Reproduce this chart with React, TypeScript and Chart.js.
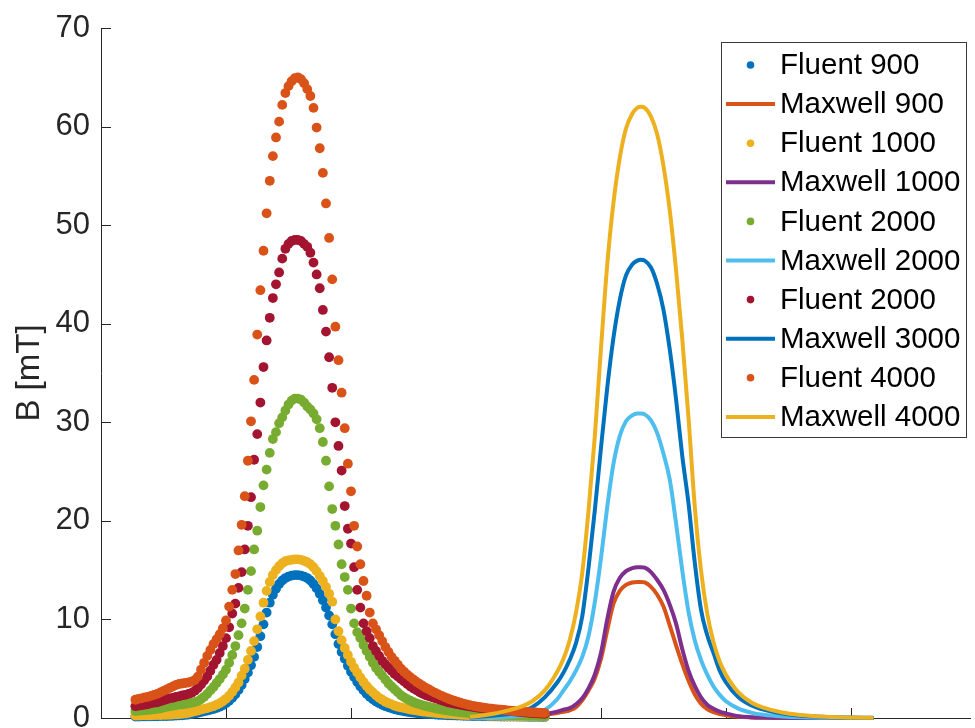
import React, { useEffect, useRef } from "react";
import { Chart, registerables } from "chart.js";

Chart.register(...registerables);

// ---- Fluent (sampled points) ----
const fluentX = [
  0.275, 0.3, 0.325, 0.35, 0.375, 0.4, 0.425, 0.45, 0.475, 0.5,
  0.525, 0.55, 0.575, 0.6, 0.625, 0.65, 0.675, 0.7, 0.725, 0.75,
  0.775, 0.8, 0.825, 0.85, 0.875, 0.9, 0.925, 0.95, 0.975, 1.0,
  1.025, 1.05, 1.075, 1.1, 1.125, 1.15, 1.175, 1.2, 1.225, 1.25,
  1.275, 1.3, 1.325, 1.35, 1.375, 1.4, 1.425, 1.45, 1.475, 1.5,
  1.525, 1.55, 1.575, 1.6, 1.625, 1.65, 1.675, 1.7, 1.725, 1.75,
  1.775, 1.8, 1.825, 1.85, 1.875, 1.9, 1.925, 1.95, 1.975, 2.0,
  2.025, 2.05, 2.075, 2.1, 2.125, 2.15, 2.175, 2.2, 2.225, 2.25,
  2.275, 2.3, 2.325, 2.35, 2.375, 2.4, 2.425, 2.45, 2.475, 2.5,
  2.525, 2.55, 2.575, 2.6, 2.625, 2.65, 2.675, 2.7, 2.725, 2.75,
  2.775, 2.8, 2.825, 2.85, 2.875, 2.9, 2.925, 2.95, 2.975, 3.0,
  3.025, 3.05, 3.075, 3.1, 3.125, 3.15, 3.175, 3.2, 3.225, 3.25,
  3.275, 3.3, 3.325, 3.35, 3.375, 3.4, 3.425, 3.45, 3.475, 3.5,
  3.525, 3.55,
];

const fluent900 = [
  0.15, 0.15, 0.16, 0.16, 0.17, 0.17, 0.18, 0.18, 0.19, 0.2,
  0.2, 0.21, 0.22, 0.24, 0.26, 0.28, 0.31, 0.35, 0.4, 0.46,
  0.52, 0.6, 0.68, 0.75, 0.83, 0.92, 1.02, 1.15, 1.3, 1.5,
  1.75, 2.05, 2.4, 2.85, 3.35, 3.95, 4.6, 5.35, 6.2, 7.2,
  8.3, 9.5, 10.7, 11.7, 12.5, 13.1, 13.6, 13.95, 14.2, 14.35,
  14.45, 14.5, 14.5, 14.45, 14.35, 14.2, 13.95, 13.6, 13.15, 12.6,
  11.95, 11.2, 10.4, 9.5, 8.5, 7.5, 6.7, 6.0, 5.3, 4.7,
  4.15, 3.65, 3.2, 2.8, 2.45, 2.15, 1.9, 1.68, 1.5, 1.33,
  1.2, 1.08, 0.98, 0.89, 0.81, 0.74, 0.68, 0.63, 0.58, 0.54,
  0.5, 0.47, 0.44, 0.41, 0.39, 0.37, 0.35, 0.33, 0.31, 0.3,
  0.28, 0.27, 0.26, 0.25, 0.24, 0.23, 0.22, 0.21, 0.2, 0.2,
  0.19, 0.18, 0.18, 0.17, 0.17, 0.16, 0.16, 0.15, 0.15, 0.15,
  0.14, 0.14, 0.14, 0.13, 0.13, 0.13, 0.12, 0.12, 0.12, 0.12,
  0.11, 0.11,
];

const fluent1000 = [
  0.25, 0.25, 0.26, 0.27, 0.28, 0.28, 0.29, 0.3, 0.3, 0.31,
  0.32, 0.33, 0.35, 0.37, 0.4, 0.43, 0.46, 0.52, 0.6, 0.68,
  0.76, 0.85, 0.93, 1.0, 1.1, 1.2, 1.35, 1.5, 1.7, 1.95,
  2.25, 2.65, 3.1, 3.6, 4.3, 5.0, 5.9, 6.8, 7.8, 9.0,
  10.3, 11.7, 12.9, 13.8, 14.5, 15.0, 15.4, 15.7, 15.9, 16.0,
  16.05, 16.1, 16.1, 16.05, 15.95, 15.8, 15.6, 15.3, 14.9, 14.4,
  13.9, 13.3, 12.6, 11.8, 10.0, 8.8, 7.9, 7.1, 6.4, 5.7,
  5.1, 4.6, 4.1, 3.65, 3.25, 2.9, 2.6, 2.3, 2.05, 1.85,
  1.65, 1.5, 1.38, 1.25, 1.15, 1.07, 1.0, 0.93, 0.86, 0.8,
  0.75, 0.7, 0.66, 0.62, 0.58, 0.55, 0.52, 0.49, 0.46, 0.43,
  0.41, 0.39, 0.37, 0.35, 0.33, 0.31, 0.3, 0.28, 0.27, 0.26,
  0.25, 0.24, 0.24, 0.23, 0.23, 0.22, 0.22, 0.21, 0.21, 0.2,
  0.2, 0.19, 0.19, 0.18, 0.18, 0.17, 0.17, 0.16, 0.16, 0.16,
  0.15, 0.15,
];

const fluent2000Green = [
  0.7, 0.72, 0.75, 0.78, 0.8, 0.85, 0.88, 0.92, 0.98, 1.05,
  1.12, 1.2, 1.25, 1.3, 1.35, 1.38, 1.42, 1.48, 1.55, 1.62,
  1.72, 1.9, 2.15, 2.45, 2.8, 3.15, 3.55, 3.95, 4.4, 4.9,
  5.6, 6.4, 7.3, 8.4, 9.6, 11.1, 13.0, 14.9, 17.1, 19.0,
  21.4, 23.6, 25.2, 26.9, 28.3, 29.0, 29.9, 30.5, 31.2, 31.8,
  32.2, 32.4, 32.4, 32.3, 32.0, 31.6, 31.3, 30.9, 30.3, 29.4,
  28.0, 26.1, 23.5, 21.2, 19.5, 17.6, 15.6, 14.3, 13.0, 11.1,
  9.6, 8.7, 8.1, 7.4, 6.8, 6.2, 5.6, 5.1, 4.7, 4.3,
  3.9, 3.5, 3.2, 2.9, 2.6, 2.3, 2.1, 1.9, 1.75, 1.6,
  1.48, 1.38, 1.28, 1.2, 1.12, 1.05, 0.98, 0.92, 0.86, 0.8,
  0.75, 0.7, 0.66, 0.62, 0.58, 0.55, 0.52, 0.5, 0.47, 0.45,
  0.43, 0.41, 0.39, 0.37, 0.36, 0.35, 0.33, 0.32, 0.31, 0.3,
  0.28, 0.27, 0.26, 0.25, 0.24, 0.23, 0.22, 0.21, 0.21, 0.2,
  0.2, 0.19,
];

const fluent2000Red = [
  1.2, 1.25, 1.3, 1.35, 1.4, 1.5, 1.55, 1.6, 1.7, 1.8,
  1.9, 2.0, 2.05, 2.15, 2.2, 2.3, 2.35, 2.45, 2.55, 2.75,
  3.05, 3.4, 3.8, 4.2, 4.8, 5.4, 5.9, 6.6, 7.3, 8.1,
  9.2, 10.6, 11.6, 13.2, 14.8, 17.1, 19.5, 22.4, 26.2, 28.8,
  32.0, 35.6, 38.3, 40.6, 42.6, 44.0, 45.2, 46.6, 47.6, 48.1,
  48.4, 48.5, 48.5, 48.4, 48.1, 47.8, 47.2, 46.2, 45.0, 43.6,
  41.4, 39.2, 36.6, 33.5, 30.0, 27.6, 25.1, 21.5, 19.2, 17.7,
  15.3, 13.0, 11.2, 9.6, 8.8, 8.1, 7.3, 6.8, 6.3, 5.8,
  5.45, 5.1, 4.8, 4.45, 4.2, 3.95, 3.7, 3.45, 3.2, 3.0,
  2.8, 2.6, 2.45, 2.3, 2.2, 2.1, 2.0, 1.9, 1.8, 1.7,
  1.6, 1.53, 1.46, 1.4, 1.34, 1.28, 1.22, 1.17, 1.12, 1.07,
  1.02, 0.98, 0.94, 0.9, 0.87, 0.84, 0.81, 0.78, 0.75, 0.72,
  0.7, 0.67, 0.64, 0.61, 0.58, 0.55, 0.52, 0.5, 0.48, 0.46,
  0.44, 0.42,
];

const fluent4000 = [
  1.85, 1.95, 2.0, 2.1, 2.15, 2.25, 2.35, 2.45, 2.6, 2.75,
  2.9, 3.05, 3.2, 3.35, 3.45, 3.5, 3.55, 3.6, 3.7, 3.85,
  4.2, 4.9, 5.6, 6.3, 6.9, 7.5, 8.0, 8.5, 9.1, 9.9,
  11.3, 13.0, 14.6, 17.0, 19.6, 22.5, 26.1, 30.1, 34.3, 38.9,
  43.4, 47.4, 51.2, 54.5, 57.0, 58.9, 60.5, 62.2, 63.4, 64.1,
  64.6, 64.9, 65.0, 64.8, 64.4, 63.8, 63.1, 61.9, 59.9, 57.8,
  55.3, 52.2, 48.7, 44.5, 39.7, 36.3, 33.0, 29.4, 25.8, 23.0,
  19.5, 17.4, 15.6, 13.9, 12.4, 10.7, 9.6, 9.0, 8.4, 7.8,
  7.2, 6.7, 6.2, 5.8, 5.4, 5.0, 4.7, 4.4, 4.15, 3.9,
  3.65, 3.45, 3.25, 3.05, 2.9, 2.7, 2.55, 2.4, 2.25, 2.1,
  1.98, 1.86, 1.75, 1.65, 1.55, 1.46, 1.38, 1.3, 1.23, 1.17,
  1.12, 1.07, 1.02, 0.98, 0.94, 0.9, 0.87, 0.84, 0.81, 0.78,
  0.74, 0.71, 0.68, 0.66, 0.64, 0.62, 0.6, 0.58, 0.56, 0.55,
  0.53, 0.52,
];

// ---- Maxwell (continuous curves) ----
const maxwellX = [
  2.95, 3.05, 3.15, 3.25, 3.35, 3.45, 3.55, 3.65,
  3.7, 3.75, 3.8, 3.85, 3.9, 3.95, 4.0, 4.05, 4.1, 4.15, 4.2, 4.25,
  4.29, 4.32, 4.35,
  4.4, 4.45, 4.5, 4.55, 4.6, 4.65, 4.7, 4.75, 4.8, 4.85, 4.9, 4.95, 5.0,
  5.1, 5.2, 5.3, 5.45, 5.6, 5.8, 6.0, 6.18,
];

const maxwell900 = [
  0.04, 0.06, 0.09, 0.12, 0.16, 0.22, 0.32, 0.5,
  0.62, 0.78, 1.1, 1.8, 2.8, 4.0, 6.0, 8.9, 11.6, 12.9, 13.5, 13.75,
  13.8, 13.8, 13.75,
  13.3, 12.5, 11.3, 9.4, 7.4, 5.5, 3.8, 2.4, 1.45, 0.9, 0.6, 0.4, 0.28,
  0.12, 0.06, 0.03, 0.01, 0, 0, 0, 0,
];

const maxwell1000 = [
  0.05, 0.08, 0.12, 0.17, 0.22, 0.28, 0.4, 0.65,
  0.85, 1.0, 1.4, 2.0, 3.0, 4.4, 6.6, 10.0, 12.8, 14.2, 14.9, 15.2,
  15.3, 15.3, 15.25,
  14.8, 14.0, 13.0, 11.5, 9.6, 7.0, 4.8, 3.25, 2.1, 1.35, 0.95, 0.65, 0.47,
  0.18, 0.08, 0.04, 0.02, 0.01, 0, 0, 0,
];

const maxwell2000 = [
  0.03, 0.05, 0.08, 0.12, 0.2, 0.4, 0.82, 1.9,
  2.8, 3.7, 4.8, 6.2, 8.3, 11.7, 16.2, 21.4, 25.8, 28.6, 30.1, 30.7,
  30.9, 30.9, 30.8,
  30.2, 28.9, 26.8, 24.2, 19.8, 15.0, 10.8, 7.9, 5.9, 4.4, 3.2, 2.35, 1.7,
  0.95, 0.55, 0.32, 0.15, 0.07, 0.03, 0.01, 0,
];

const maxwell3000 = [
  0.08, 0.15, 0.25, 0.38, 0.6, 1.1, 2.1, 3.6,
  4.6, 5.9, 7.6, 10.3, 15.2, 21.0, 27.4, 33.5, 38.6, 42.4, 44.9, 46.0,
  46.4, 46.5, 46.4,
  45.7, 44.0, 41.4, 37.4, 32.4, 26.6, 21.8, 15.8, 11.0, 8.4, 6.6, 4.8, 3.6,
  2.1, 1.3, 0.85, 0.45, 0.22, 0.1, 0.04, 0.02,
];

const maxwell4000 = [
  0.12, 0.25, 0.45, 0.75, 1.1, 1.7, 2.8, 4.7,
  6.0, 7.9, 10.7, 14.7, 21.0, 28.5, 37.5, 46.0, 52.3, 56.8, 59.8, 61.3,
  61.9, 62.0, 61.9,
  61.0, 59.2, 56.0, 51.5, 45.5, 38.5, 30.5, 21.5, 15.0, 10.6, 7.7, 5.7, 4.4,
  2.6, 1.6, 1.05, 0.55, 0.3, 0.12, 0.05, 0.02,
];

const yTicks = [0, 10, 20, 30, 40, 50, 60, 70];
const xTicks = [1, 2, 3, 4, 5, 6];

const seriesLabels = [
  "Fluent 900", "Maxwell 900", "Fluent 1000", "Maxwell 1000", "Fluent 2000",
  "Maxwell 2000", "Fluent 2000", "Maxwell 3000", "Fluent 4000", "Maxwell 4000",
];
const seriesColors = [
  "#0072BD", "#D95319", "#EDB120", "#7E2F8E", "#77AC30",
  "#4DBEEE", "#A2142F", "#0072BD", "#D95319", "#EDB120",
];
const seriesIsLine = [false, true, false, true, false, true, false, true, false, true];
const seriesValues = [
  fluent900, maxwell900, fluent1000, maxwell1000, fluent2000Green,
  maxwell2000, fluent2000Red, maxwell3000, fluent4000, maxwell4000,
];

const FONT = '"Liberation Sans", Arial, Helvetica, sans-serif';
const AXIS_COLOR = "#262626";

const inwardTicks = {
  id: "inwardTicks",
  beforeDatasetsDraw(chart: any) {
    const { ctx, chartArea, scales } = chart;
    ctx.save();
    ctx.strokeStyle = AXIS_COLOR;
    ctx.lineWidth = 1;
    ctx.beginPath();
    for (const v of yTicks) {
      const y = Math.round(scales.y.getPixelForValue(v)) + 0.5;
      ctx.moveTo(chartArea.left, y);
      ctx.lineTo(chartArea.left + 10, y);
    }
    for (const v of xTicks) {
      const x = Math.round(scales.x.getPixelForValue(v)) + 0.5;
      ctx.moveTo(x, chartArea.bottom);
      ctx.lineTo(x, chartArea.bottom - 10);
    }
    ctx.stroke();
    ctx.restore();
  },
};

const boxLegend = {
  id: "boxLegend",
  afterDraw(chart: any) {
    const { ctx } = chart;
    const left = 721;
    const top = 42;
    const width = 245;
    const height = 395;
    const rowTop = 65;
    const rowStep = 39.1;
    ctx.save();
    ctx.fillStyle = "#ffffff";
    ctx.fillRect(left, top, width, height);
    ctx.strokeStyle = "#3a3a3a";
    ctx.lineWidth = 1;
    ctx.strokeRect(left + 0.5, top + 0.5, width, height);
    ctx.font = `29.5px ${FONT}`;
    ctx.textBaseline = "middle";
    ctx.textAlign = "left";
    chart.data.datasets.forEach((ds: any, i: number) => {
      const y = rowTop + i * rowStep;
      if (ds.showLine) {
        ctx.strokeStyle = ds.borderColor;
        ctx.lineWidth = 4;
        ctx.beginPath();
        ctx.moveTo(726, y);
        ctx.lineTo(775, y);
        ctx.stroke();
      } else {
        ctx.fillStyle = ds.pointBackgroundColor;
        ctx.beginPath();
        ctx.arc(750.5, y, 3.8, 0, Math.PI * 2);
        ctx.fill();
      }
      ctx.fillStyle = "#000000";
      ctx.fillText(ds.label, 780, y + 1);
    });
    ctx.restore();
  },
};

export default function App() {
  const canvasRef = useRef<HTMLCanvasElement | null>(null);

  useEffect(() => {
    if (!canvasRef.current) return;
    const datasets = seriesLabels.map((label, i) => {
      const xs = seriesIsLine[i] ? maxwellX : fluentX;
      const ys = seriesValues[i];
      const isLine = seriesIsLine[i];
      return {
        label,
        data: xs.map((x, k) => ({ x, y: ys[k] })),
        showLine: isLine,
        borderColor: seriesColors[i],
        backgroundColor: seriesColors[i],
        pointBackgroundColor: seriesColors[i],
        borderWidth: isLine ? 4 : 0,
        pointRadius: isLine ? 0 : 4.9,
        pointBorderWidth: 0,
        pointHoverRadius: 0,
        cubicInterpolationMode: "monotone" as const,
        clip: false as any,
        order: seriesLabels.length - i,
      };
    });

    const chart = new Chart(canvasRef.current, {
      type: "scatter",
      data: { datasets },
      options: {
        responsive: false,
        animation: false,
        devicePixelRatio: 1,
        events: [],
        layout: { padding: { top: 28, left: 0, right: 0, bottom: 0 } },
        plugins: {
          legend: { display: false },
          tooltip: { enabled: false },
        },
        scales: {
          x: {
            type: "linear",
            min: 0,
            max: 6.953,
            ticks: { display: false },
            grid: { display: false, drawTicks: false },
            border: { display: true, color: AXIS_COLOR, width: 1 },
            afterFit: (scale: any) => {
              scale.height = 10;
            },
          },
          y: {
            type: "linear",
            min: 0,
            max: 70,
            afterBuildTicks: (scale: any) => {
              scale.ticks = yTicks.map((v) => ({ value: v }));
            },
            ticks: {
              padding: 11,
              color: AXIS_COLOR,
              font: { family: FONT, size: 31 },
            },
            grid: { display: false, drawTicks: false },
            border: { display: true, color: AXIS_COLOR, width: 1 },
            title: {
              display: true,
              text: "B [mT]",
              color: AXIS_COLOR,
              font: { family: FONT, size: 33 },
              padding: { top: 10, bottom: 0 },
            },
            afterFit: (scale: any) => {
              scale.width = 101;
              scale.paddingTop = 0;
              scale.paddingBottom = 0;
            },
          },
        },
      },
      plugins: [inwardTicks, boxLegend],
    });
    return () => chart.destroy();
  }, []);

  return (
    <div style={{ position: "absolute", left: 0, top: 0, width: 975, height: 728, background: "#fff" }}>
      <canvas ref={canvasRef} width={975} height={728} style={{ display: "block" }} />
    </div>
  );
}
